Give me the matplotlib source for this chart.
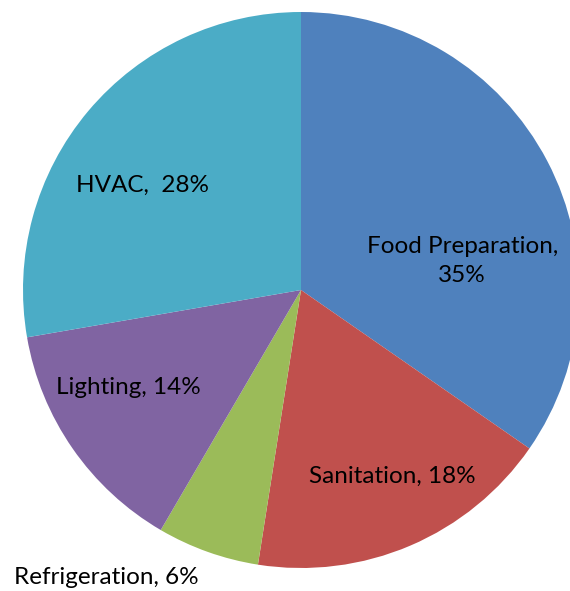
import matplotlib
matplotlib.use("Agg")
import matplotlib.pyplot as plt

# energy use by end use
categories = ["Food Preparation", "Sanitation", "Refrigeration", "Lighting", "HVAC"]
shares = [35, 18, 6, 14, 28]
labels = ["Food Preparation,\n35%", "Sanitation, 18%", "Refrigeration, 6%", "Lighting, 14%", "HVAC,  28%"]
colors = ["#4F81BD", "#C0504D", "#9BBB59", "#8064A2", "#4BACC6"]

# label anchors (radius units, relative to pie centre)
label_pos = [(0.58, 0.105), (0.33, -0.67), (-0.70, -1.035), (-0.62, -0.35), (-0.57, 0.375)]

fig = plt.figure(figsize=(5.70, 5.91), dpi=100)
ax = fig.add_axes([0, 0, 1, 1])

r_px = 278
cx, cy = 301, 290
ax.pie(shares, colors=colors, startangle=90, counterclock=False, radius=1,
       wedgeprops=dict(linewidth=0))
ax.set_xlim(-cx / r_px, (570 - cx) / r_px)
ax.set_ylim(-(591 - cy) / r_px, cy / r_px)
ax.set_aspect("equal")
ax.axis("off")

for lab, (x, y) in zip(labels, label_pos):
    ax.text(x, y, lab, ha="center", va="center", fontsize=17.5, family="Lato",
            linespacing=1.45, color="black")

fig.savefig("out.png", dpi=100)
